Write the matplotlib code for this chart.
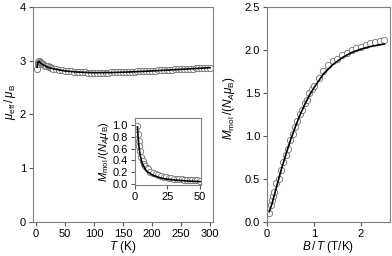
import matplotlib
matplotlib.use("Agg")
import matplotlib.pyplot as plt

plt.rcParams['font.family'] = ['Liberation Sans', 'DejaVu Sans']
plt.rcParams['mathtext.fontset'] = 'custom'
plt.rcParams['mathtext.rm'] = 'Liberation Sans'
plt.rcParams['mathtext.it'] = 'Liberation Sans:italic'

# mu_eff vs T
T_data = [2, 3, 4, 5, 6, 7, 8, 9, 10,
          12, 14, 16, 18, 20, 22, 24, 26, 28, 30,
          35, 40, 45, 50, 55, 60, 65, 70, 75, 80, 85, 90, 95, 100,
          105, 110, 115, 120, 125, 130, 135, 140, 145, 150, 155, 160,
          165, 170, 175, 180, 185, 190, 195, 200, 205, 210, 215, 220,
          225, 230, 235, 240, 245, 250, 255, 260, 265, 270, 275, 280,
          285, 290, 295, 300]
mu_data = [2.85, 2.93, 2.98, 3.00, 2.99, 2.97, 2.96, 2.95, 2.94,
           2.93, 2.92, 2.91, 2.91, 2.90, 2.89, 2.88, 2.87, 2.86, 2.85,
           2.84, 2.83, 2.82, 2.81, 2.805, 2.80, 2.795, 2.79, 2.788, 2.785, 2.783, 2.78, 2.78, 2.778,
           2.778, 2.778, 2.778, 2.779, 2.78, 2.781, 2.782, 2.784, 2.786, 2.788, 2.79, 2.792,
           2.795, 2.797, 2.80, 2.803, 2.805, 2.808, 2.81, 2.813, 2.816, 2.819, 2.822, 2.825,
           2.828, 2.831, 2.834, 2.837, 2.84, 2.843, 2.846, 2.849, 2.852, 2.855, 2.858, 2.861,
           2.864, 2.867, 2.87, 2.873]
T_fit = [2, 3, 4, 5, 6, 8, 10, 15, 20, 30, 40, 50, 70, 100, 130, 160, 200, 250, 300]
mu_fit = [2.88, 2.95, 2.98, 2.99, 2.98, 2.96, 2.94, 2.91, 2.88, 2.85, 2.83, 2.81,
          2.79, 2.777, 2.78, 2.79, 2.81, 2.84, 2.87]

# inset: M vs T
T_ins = [2, 2.5, 3, 3.5, 4, 5, 6, 7, 8, 9, 10, 12, 14, 16, 18, 20, 22, 24, 26,
         28, 30, 32, 34, 36, 38, 40, 42, 44, 46, 48, 50]
M_ins = [0.98, 0.85, 0.73, 0.64, 0.56, 0.46, 0.39, 0.34, 0.30, 0.27, 0.245, 0.21,
         0.18, 0.16, 0.145, 0.13, 0.12, 0.11, 0.10, 0.095, 0.09, 0.085, 0.08,
         0.075, 0.072, 0.068, 0.065, 0.062, 0.06, 0.058, 0.055]
T_ins_fit = [2, 2.5, 3, 4, 5, 6, 8, 10, 14, 20, 25, 30, 40, 50]
M_ins_fit = [0.97, 0.80, 0.66, 0.50, 0.40, 0.33, 0.25, 0.20, 0.145, 0.10, 0.08,
             0.067, 0.05, 0.04]

# M vs B/T
BT_data = [0.05, 0.08, 0.1, 0.12, 0.15, 0.2, 0.25, 0.3, 0.35, 0.4, 0.45, 0.5,
           0.55, 0.6, 0.65, 0.7, 0.75, 0.8, 0.85, 0.9, 0.95, 1.0, 1.1, 1.2,
           1.3, 1.4, 1.5, 1.6, 1.7, 1.8, 1.9, 2.0, 2.1, 2.2, 2.3, 2.4, 2.5]
M_data = [0.10, 0.20, 0.25, 0.30, 0.35, 0.45, 0.50, 0.60, 0.70, 0.78, 0.85, 0.95,
          1.02, 1.10, 1.18, 1.25, 1.30, 1.38, 1.42, 1.50, 1.55, 1.58, 1.67, 1.75,
          1.82, 1.87, 1.90, 1.94, 1.97, 2.00, 2.02, 2.04, 2.06, 2.08, 2.09, 2.10, 2.12]
BT_fit = [0.05, 0.1, 0.2, 0.3, 0.4, 0.5, 0.6, 0.7, 0.8, 0.9, 1.0, 1.2, 1.4, 1.6,
          1.8, 2.0, 2.2, 2.4, 2.5]
M_fit = [0.12, 0.20, 0.40, 0.60, 0.78, 0.95, 1.10, 1.24, 1.36, 1.47, 1.56, 1.72,
         1.83, 1.91, 1.97, 2.01, 2.04, 2.06, 2.07]

spine_col = '#808080'
mk = dict(marker='o', ls='none', mfc='white', mec='#707070', ms=4.5, mew=0.6)


def style(ax, fs=8):
    for s in ax.spines.values():
        s.set_color(spine_col)
        s.set_linewidth(0.8)
    ax.tick_params(direction='out', length=3, width=0.8, color='#555555',
                   labelsize=fs, top=False, right=False, pad=2)


fig = plt.figure(figsize=(3.92, 2.56), dpi=100)

ax1 = fig.add_axes([0.0842, 0.1328, 0.459, 0.84])
ax1.plot(T_data, mu_data, **mk)
ax1.plot(T_fit, mu_fit, color='black', lw=1.2)
ax1.set_xlim(-5, 305)
ax1.set_ylim(0, 4)
ax1.set_xticks([0, 50, 100, 150, 200, 250, 300])
ax1.set_yticks([0, 1, 2, 3, 4])
ax1.set_xlabel('$T$ (K)', fontsize=8.5, labelpad=0)
ax1.set_ylabel(r'$\mu_{\rm eff}\,/\,\mu_{\rm B}$', fontsize=8.5)
ax1.yaxis.set_label_coords(-0.085, 0.56)
style(ax1)

ax_in = fig.add_axes([0.344, 0.277, 0.168, 0.262])
ax_in.plot(T_ins, M_ins, **mk)
ax_in.plot(T_ins_fit, M_ins_fit, color='black', lw=1.2)
ax_in.set_xlim(0, 50.5)
ax_in.set_ylim(-0.02, 1.12)
ax_in.set_xticks([0, 25, 50])
ax_in.set_yticks([0.0, 0.2, 0.4, 0.6, 0.8, 1.0])
ax_in.set_yticklabels(['0.0', '0.2', '0.4', '0.6', '0.8', '1.0'])
ax_in.set_ylabel(r'$M_{\rm mol}\,/(N_{A}\mu_{\rm B})$', fontsize=8, labelpad=1)
style(ax_in, fs=8)

ax2 = fig.add_axes([0.681, 0.1328, 0.314, 0.84])
ax2.plot(BT_data, M_data, **mk)
ax2.plot(BT_fit, M_fit, color='black', lw=1.2)
ax2.set_xlim(0, 2.62)
ax2.set_ylim(0, 2.5)
ax2.set_xticks([0, 1, 2])
ax2.set_yticks([0.0, 0.5, 1.0, 1.5, 2.0, 2.5])
ax2.set_yticklabels(['0.0', '0.5', '1.0', '1.5', '2.0', '2.5'])
ax2.set_xlabel(r'$B\,/\,T$ (T/K)', fontsize=8.5, labelpad=0)
ax2.set_ylabel(r'$M_{\rm mol}\,/(N_{A}\mu_{\rm B})$', fontsize=8.5)
ax2.yaxis.set_label_coords(-0.24, 0.53)
style(ax2)

fig.savefig('out.png', dpi=100)
